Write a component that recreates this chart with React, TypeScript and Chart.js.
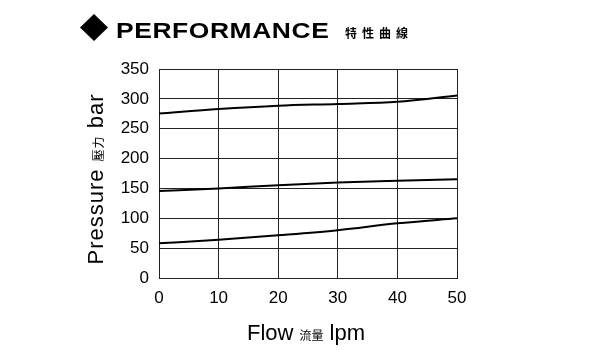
import React, { useEffect, useRef } from "react";
import { Chart, registerables } from "chart.js";

Chart.register(...registerables);

// ---- data ----
const flowLpm = [0, 10, 20, 30, 40, 50];
const curveHigh = [275.5, 283, 288.5, 291.5, 295, 305.5];
const curveMid = [145.5, 150, 155.5, 160, 163, 165.5];
const curveLow = [58, 64, 71.5, 80, 91.5, 100];
const xTickValues = [0, 10, 20, 30, 40, 50];
const yTickValues = [0, 50, 100, 150, 200, 250, 300, 350];
const titleMain = "PERFORMANCE";
const titleCjk = "特性曲線";
const xTitleParts = ["Flow ", "流量", " lpm"];
const yTitleParts = ["Pressure ", "壓力", " bar"];

const LATIN = "'Liberation Sans', Arial, sans-serif";
const CJK = "'Noto Sans CJK TC', 'Noto Sans CJK SC', sans-serif";

function drawParts(ctx: CanvasRenderingContext2D, parts: string[], fonts: string[], cx: number, cy: number, spacing: string) {
  (ctx as any).letterSpacing = spacing;
  const widths = parts.map((p, i) => {
    ctx.font = fonts[i];
    return ctx.measureText(p).width;
  });
  const total = widths.reduce((a, b) => a + b, 0);
  let x = cx - total / 2;
  ctx.textAlign = "left";
  ctx.textBaseline = "alphabetic";
  parts.forEach((p, i) => {
    ctx.font = fonts[i];
    ctx.fillText(p, x, cy);
    x += widths[i];
  });
}

const textPlugin = {
  id: "customTexts",
  afterDraw(chart: any) {
    const ctx: CanvasRenderingContext2D = chart.ctx;
    const a = chart.chartArea;
    ctx.save();
    ctx.fillStyle = "#000";
    // title diamond
    ctx.beginPath();
    ctx.moveTo(94, 14);
    ctx.lineTo(108, 27.5);
    ctx.lineTo(94, 41);
    ctx.lineTo(80, 27.5);
    ctx.closePath();
    ctx.fill();
    // title text (wide, heavy lettering)
    ctx.save();
    ctx.translate(116, 38);
    ctx.scale(1.2, 1);
    (ctx as any).letterSpacing = "0.5px";
    ctx.font = `bold 22px ${LATIN}`;
    ctx.textAlign = "left";
    ctx.textBaseline = "alphabetic";
    ctx.fillText(titleMain, 0, 0);
    ctx.restore();
    (ctx as any).letterSpacing = "5px";
    ctx.font = `bold 12px ${CJK}`;
    ctx.textAlign = "left";
    ctx.textBaseline = "alphabetic";
    ctx.fillText(titleCjk, 345, 38);
    // x title
    const cxX = (a.left + a.right) / 2 - 2;
    drawParts(ctx, xTitleParts, [`22px ${LATIN}`, `12px ${CJK}`, `22px ${LATIN}`], cxX, 340, "0px");
    // y title
    ctx.translate(103, 179);
    ctx.rotate(-Math.PI / 2);
    drawParts(ctx, yTitleParts, [`22px ${LATIN}`, `12px ${CJK}`, `22px ${LATIN}`], 0, 0, "1px");
    ctx.restore();
  },
};

export default function App() {
  const ref = useRef<HTMLCanvasElement | null>(null);
  useEffect(() => {
    const canvas = ref.current;
    if (!canvas) return;
    const mk = (vals: number[]) => flowLpm.map((x, i) => ({ x, y: vals[i] }));
    const line = (label: string, vals: number[]) => ({
      label,
      data: mk(vals),
      borderColor: "#000",
      borderWidth: 2,
      pointRadius: 0,
      fill: false,
      cubicInterpolationMode: "monotone" as const,
    });
    const chart = new Chart(canvas, {
      type: "line",
      data: {
        datasets: [line("high", curveHigh), line("mid", curveMid), line("low", curveLow)],
      },
      options: {
        responsive: false,
        animation: false,
        layout: { padding: { left: 0, right: 143, top: 69, bottom: 0 } },
        plugins: { legend: { display: false }, tooltip: { enabled: false }, title: { display: false } },
        scales: {
          x: {
            type: "linear",
            min: 0,
            max: 50,
            afterFit: (s: any) => { s.height = 72; },
            afterBuildTicks: (s: any) => { s.ticks = xTickValues.map((v) => ({ value: v })); },
            grid: { color: "#222", lineWidth: 1, drawTicks: false },
            border: { color: "#222", width: 1 },
            ticks: { color: "#000", font: { family: LATIN, size: 17 }, padding: 10 },
          },
          y: {
            type: "linear",
            min: 0,
            max: 350,
            afterFit: (s: any) => { s.width = 159; },
            afterBuildTicks: (s: any) => { s.ticks = yTickValues.map((v) => ({ value: v })); },
            grid: { color: "#222", lineWidth: 1, drawTicks: false },
            border: { color: "#222", width: 1 },
            ticks: { color: "#000", font: { family: LATIN, size: 17 }, padding: 10 },
          },
        },
      },
      plugins: [textPlugin],
    });
    return () => chart.destroy();
  }, []);
  return (
    <div style={{ position: "fixed", left: 0, top: 0, width: 600, height: 350, background: "#fff" }}>
      <canvas ref={ref} width={600} height={350} style={{ width: 600, height: 350 }} />
    </div>
  );
}
